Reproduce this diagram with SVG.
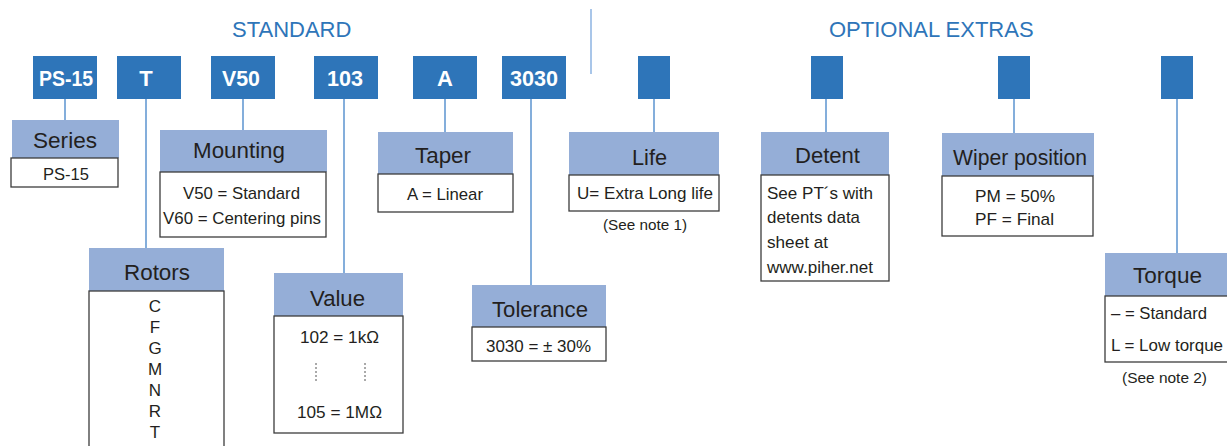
<svg xmlns="http://www.w3.org/2000/svg" width="1227" height="446" viewBox="0 0 1227 446">
<style>
.code{fill:#2e75b9}
.codet{font-family:"Liberation Sans",Arial,sans-serif;font-weight:bold;font-size:22px;fill:#fff;text-anchor:middle}
.hd{fill:#95aed7}
.hdt{font-family:"Liberation Sans",Arial,sans-serif;font-size:22px;fill:#231f20;text-anchor:middle}
.bd{fill:#fff;stroke:#3c3c3c;stroke-width:1.3}
.bt{font-family:"Liberation Sans",Arial,sans-serif;font-size:17px;fill:#231f20;text-anchor:middle}
.bl{font-family:"Liberation Sans",Arial,sans-serif;font-size:17px;fill:#231f20}
.nt{font-family:"Liberation Sans",Arial,sans-serif;font-size:15px;fill:#231f20;text-anchor:middle}
.title{font-family:"Liberation Sans",Arial,sans-serif;font-size:22px;fill:#2e75b9}
.conn line{stroke:#5b93cf;stroke-width:1.5}
.dot{stroke:#555;stroke-width:1;stroke-dasharray:2,2}
</style>
<text class="title" x="232" y="37">STANDARD</text>
<text class="title" x="829" y="37">OPTIONAL EXTRAS</text>
<line x1="591" y1="9" x2="591" y2="74" stroke="#8db3e2" stroke-width="1.5"/>
<g id="connectors" class="conn">
<line x1="65" y1="99" x2="65" y2="120"/>
<line x1="146" y1="99" x2="146" y2="248"/>
<line x1="243" y1="99" x2="243" y2="130"/>
<line x1="344" y1="99" x2="344" y2="273"/>
<line x1="445" y1="99" x2="445" y2="132"/>
<line x1="531" y1="99" x2="531" y2="285"/>
<line x1="654" y1="99" x2="654" y2="132"/>
<line x1="826" y1="99" x2="826" y2="132"/>
<line x1="1014" y1="99" x2="1014" y2="133"/>
<line x1="1177" y1="99" x2="1177" y2="253"/>
</g>
<g id="code-ps15"><rect class="code" x="33" y="56" width="64" height="43"/><text class="codet" x="66" y="86" textLength="54" lengthAdjust="spacingAndGlyphs">PS-15</text></g>
<g id="code-t"><rect class="code" x="117" y="56" width="64" height="43"/><text class="codet" x="146" y="86">T</text></g>
<g id="code-v50"><rect class="code" x="211" y="56" width="64" height="43"/><text class="codet" x="241" y="86" textLength="38" lengthAdjust="spacingAndGlyphs">V50</text></g>
<g id="code-103"><rect class="code" x="314" y="56" width="64" height="43"/><text class="codet" x="345" y="86" textLength="36" lengthAdjust="spacingAndGlyphs">103</text></g>
<g id="code-a"><rect class="code" x="413" y="56" width="64" height="43"/><text class="codet" x="445" y="86">A</text></g>
<g id="code-3030"><rect class="code" x="502" y="56" width="64" height="43"/><text class="codet" x="534" y="86" textLength="48" lengthAdjust="spacingAndGlyphs">3030</text></g>
<g id="code-life"><rect class="code" x="638" y="56" width="32" height="43"/></g>
<g id="code-detent"><rect class="code" x="811" y="56" width="32" height="43"/></g>
<g id="code-wiper"><rect class="code" x="998" y="56" width="32" height="43"/></g>
<g id="code-torque"><rect class="code" x="1161" y="56" width="32" height="43"/></g>
<g id="series">
<rect class="hd" x="12" y="120" width="107" height="38"/><text class="hdt" x="65" y="148" textLength="64" lengthAdjust="spacingAndGlyphs">Series</text>
<rect class="bd" x="11" y="158" width="107" height="29"/><text class="bt" x="66" y="180" textLength="46" lengthAdjust="spacingAndGlyphs">PS-15</text>
</g>
<g id="mounting">
<rect class="hd" x="160" y="130" width="167" height="42"/><text class="hdt" x="239" y="158" textLength="92" lengthAdjust="spacingAndGlyphs">Mounting</text>
<rect class="bd" x="160" y="172" width="166" height="65"/>
<text class="bt" x="241.5" y="199" textLength="117" lengthAdjust="spacingAndGlyphs">V50 = Standard</text>
<text class="bt" x="242" y="224" textLength="158" lengthAdjust="spacingAndGlyphs">V60 = Centering pins</text>
</g>
<g id="rotors">
<rect class="hd" x="89" y="248" width="135" height="43"/><text class="hdt" x="157" y="280" textLength="66" lengthAdjust="spacingAndGlyphs">Rotors</text>
<rect class="bd" x="89" y="291" width="135" height="170"/>
<text class="bt" x="155" y="312">C</text>
<text class="bt" x="155" y="333">F</text>
<text class="bt" x="155" y="354">G</text>
<text class="bt" x="155" y="375">M</text>
<text class="bt" x="155" y="396">N</text>
<text class="bt" x="155" y="417">R</text>
<text class="bt" x="155" y="438">T</text>
</g>
<g id="value">
<rect class="hd" x="274" y="273" width="129" height="43"/><text class="hdt" x="337.5" y="306" textLength="55" lengthAdjust="spacingAndGlyphs">Value</text>
<rect class="bd" x="274" y="316" width="129" height="117"/>
<text class="bt" x="339.5" y="343" textLength="79" lengthAdjust="spacingAndGlyphs">102 = 1kΩ</text>
<line class="dot" x1="316" y1="363" x2="316" y2="381"/>
<line class="dot" x1="365" y1="363" x2="365" y2="381"/>
<text class="bt" x="339.5" y="418" textLength="85" lengthAdjust="spacingAndGlyphs">105 = 1MΩ</text>
</g>
<g id="taper">
<rect class="hd" x="378" y="132" width="135" height="42"/><text class="hdt" x="443" y="163" textLength="56" lengthAdjust="spacingAndGlyphs">Taper</text>
<rect class="bd" x="378" y="174" width="135" height="38"/><text class="bt" x="445" y="200" textLength="76" lengthAdjust="spacingAndGlyphs">A = Linear</text>
</g>
<g id="tolerance">
<rect class="hd" x="472" y="285" width="134" height="42"/><text class="hdt" x="540" y="317" textLength="96" lengthAdjust="spacingAndGlyphs">Tolerance</text>
<rect class="bd" x="472" y="327" width="134" height="34"/><text class="bt" x="538.5" y="352" textLength="105" lengthAdjust="spacingAndGlyphs">3030 = ± 30%</text>
</g>
<g id="life">
<rect class="hd" x="569" y="132" width="150" height="43"/><text class="hdt" x="649.5" y="165" textLength="35" lengthAdjust="spacingAndGlyphs">Life</text>
<rect class="bd" x="569" y="175" width="150" height="36"/><text class="bt" x="645" y="199" textLength="136" lengthAdjust="spacingAndGlyphs">U= Extra Long life</text>
<text class="nt" x="645" y="230" textLength="84" lengthAdjust="spacingAndGlyphs">(See note 1)</text>
</g>
<g id="detent">
<rect class="hd" x="761" y="132" width="128" height="43"/><text class="hdt" x="827.5" y="163" textLength="65" lengthAdjust="spacingAndGlyphs">Detent</text>
<rect class="bd" x="761" y="175" width="128" height="106"/>
<text class="bl" x="767" y="199" textLength="106" lengthAdjust="spacingAndGlyphs">See PT´s with</text>
<text class="bl" x="767" y="223" textLength="93" lengthAdjust="spacingAndGlyphs">detents data</text>
<text class="bl" x="767" y="248" textLength="61" lengthAdjust="spacingAndGlyphs">sheet at</text>
<text class="bl" x="767" y="273" textLength="106" lengthAdjust="spacingAndGlyphs">www.piher.net</text>
</g>
<g id="wiper">
<rect class="hd" x="942" y="133" width="152" height="43"/><text class="hdt" x="1020" y="165" textLength="134" lengthAdjust="spacingAndGlyphs">Wiper position</text>
<rect class="bd" x="942" y="176" width="151" height="60"/>
<text class="bt" x="1015" y="202" textLength="80" lengthAdjust="spacingAndGlyphs">PM = 50%</text>
<text class="bt" x="1014.5" y="225" textLength="79" lengthAdjust="spacingAndGlyphs">PF = Final</text>
</g>
<g id="torque">
<rect class="hd" x="1105" y="253" width="130" height="43"/><text class="hdt" x="1167.5" y="283" textLength="69" lengthAdjust="spacingAndGlyphs">Torque</text>
<rect class="bd" x="1105" y="296" width="130" height="66"/>
<text class="bl" x="1111" y="319" textLength="96" lengthAdjust="spacingAndGlyphs">– = Standard</text>
<text class="bl" x="1111" y="351" textLength="112" lengthAdjust="spacingAndGlyphs">L = Low torque</text>
<text class="nt" x="1164.5" y="383" textLength="85" lengthAdjust="spacingAndGlyphs">(See note 2)</text>
</g>
</svg>
